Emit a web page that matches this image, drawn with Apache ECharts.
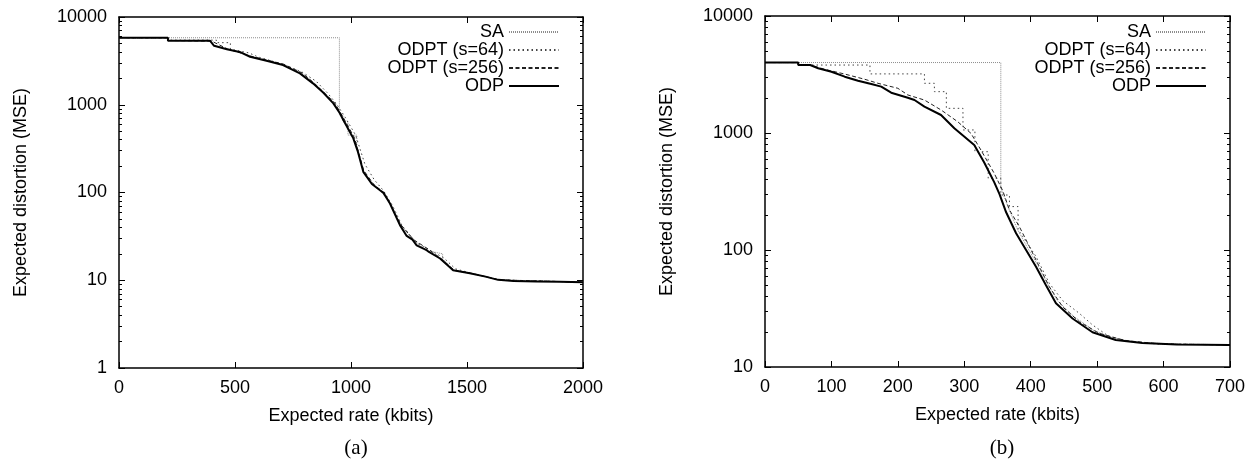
<!DOCTYPE html>
<html>
<head>
<meta charset="utf-8">
<script src="https://cdn.jsdelivr.net/npm/echarts@6/dist/echarts.min.js"></script>
<style>
html,body{margin:0;padding:0;background:#fff;}
#chart{width:1253px;height:462px;}
</style>
</head>
<body>
<div id="chart"></div>
<script>
// ---------- data: panel (a) ----------
const seriesNames = ['SA', 'ODPT (s=64)', 'ODPT (s=256)', 'ODP'];

const aOdpRate = [0, 211, 211, 392, 410, 465, 520, 565, 640, 707, 780, 836, 880, 924, 952, 967, 1010, 1030, 1053, 1090, 1125, 1140, 1168, 1211, 1240, 1265, 1283, 1326, 1336, 1384, 1420, 1440, 1512, 1580, 1634, 1700, 1800, 1900, 2000];
const aOdpVal  = [5800, 5800, 5370, 5370, 4700, 4285, 4000, 3525, 3150, 2836, 2280, 1754, 1380, 1038, 800, 670, 414, 290, 172, 125, 106, 99, 75, 42.5, 32, 29, 25, 22, 21, 17.7, 14.5, 13, 12, 11, 10.1, 9.8, 9.7, 9.6, 9.5];

const aS64Rate = [0, 211, 211, 420, 420, 480, 480, 560, 600, 660, 720, 790, 850, 900, 940, 975, 1020, 1060, 1100, 1140, 1180, 1220, 1280, 1340, 1400, 1450, 1520, 1640, 2000];
const aS64Val  = [5800, 5800, 5450, 5450, 5100, 5100, 4300, 3900, 3500, 3150, 2800, 2350, 1850, 1350, 1000, 720, 450, 210, 140, 105, 70, 42, 27, 22, 18, 13.5, 12, 10.1, 9.5];

const aS256Rate = [0, 211, 211, 400, 470, 565, 710, 790, 840, 930, 970, 1015, 1055, 1100, 1145, 1215, 1270, 1340, 1390, 1445, 1520, 1640, 2000];
const aS256Val  = [5800, 5800, 5400, 5300, 4300, 3600, 2900, 2300, 1780, 1050, 690, 420, 178, 122, 98, 43, 29, 22, 17.5, 13, 12, 10.1, 9.5];

const aSaRate = [0, 950, 950, 965, 965, 987, 987, 1025, 1025, 1053, 1090, 1125, 1170, 1211, 1265, 1320, 1395, 1395, 1440, 1512, 1634, 2000];
const aSaVal  = [5800, 5800, 763, 763, 640, 640, 451, 451, 330, 175, 128, 106, 76, 43, 29.5, 22, 20, 17.7, 13, 12, 10.1, 9.5];

// ---------- data: panel (b) ----------
const bOdpRate = [0, 50, 50, 68, 80, 100, 120, 140, 160, 175, 190, 215, 225, 240, 265, 285, 315, 330, 345, 353, 363, 378, 393, 408, 423, 438, 463, 493, 528, 568, 620, 700];
const bOdpVal  = [4000, 4000, 3810, 3810, 3575, 3340, 3030, 2800, 2620, 2490, 2210, 2000, 1913, 1680, 1425, 1097, 790, 560, 380, 300, 210, 139, 100, 72, 50, 35, 26, 19.8, 17, 16, 15.6, 15.4];

const bS64Rate = [0, 50, 50, 158, 158, 240, 240, 255, 255, 273, 273, 298, 298, 316, 316, 336, 336, 355, 355, 368, 368, 381, 381, 388, 408, 428, 448, 473, 493, 518, 553, 593, 700];
const bS64Val  = [4000, 4000, 3810, 3810, 3200, 3200, 2660, 2660, 2256, 2256, 1625, 1625, 1062, 1062, 692, 692, 410, 410, 295, 295, 235, 235, 150, 130, 88, 52, 37, 28.8, 22.9, 18.2, 16.4, 15.7, 15.5];

const bS256Rate = [0, 50, 50, 68, 90, 120, 150, 170, 200, 215, 240, 265, 290, 310, 325, 345, 358, 368, 383, 398, 413, 428, 448, 473, 503, 543, 593, 700];
const bS256Val  = [4000, 4000, 3810, 3810, 3500, 3190, 2880, 2660, 2410, 2115, 1913, 1574, 1250, 994, 716, 453, 320, 220, 158, 107, 72, 48.5, 32.7, 24.4, 19.4, 16.8, 15.8, 15.4];

const bSaRate = [0, 355, 355, 365, 380, 395, 410, 425, 440, 465, 495, 530, 570, 620, 700];
const bSaVal  = [4000, 4000, 340, 240, 150, 105, 75, 52, 37, 27, 20.5, 17.3, 16.1, 15.7, 15.5];

// ---------- tick values ----------
const aYMajor = [1, 10, 100, 1000, 10000];
const aYMinor = [2, 3, 4, 5, 6, 7, 8, 9, 20, 30, 40, 50, 60, 70, 80, 90, 200, 300, 400, 500, 600, 700, 800, 900, 2000, 3000, 4000, 5000, 6000, 7000, 8000, 9000];
const bYMajor = [10, 100, 1000, 10000];
const bYMinor = [20, 30, 40, 50, 60, 70, 80, 90, 200, 300, 400, 500, 600, 700, 800, 900, 2000, 3000, 4000, 5000, 6000, 7000, 8000, 9000];

// ---------- helpers ----------
function zip(xs, ys) { return xs.map((x, i) => [x, ys[i]]); }
function plain(v) { return String(v); }

const FONT = 'Liberation Sans';
const lineBlack = { color: '#000', width: 1.5 };

function xAxes(gridIndex, max, interval) {
  return [
    { type: 'value', gridIndex, position: 'bottom', min: 0, max, interval,
      axisLine: { show: true, lineStyle: lineBlack },
      axisTick: { inside: true, length: 6, lineStyle: { color: '#000', width: 1 } },
      axisLabel: { fontSize: 18, fontFamily: FONT, color: '#000', margin: 11, formatter: plain },
      splitLine: { show: false },
      name: 'Expected rate (kbits)', nameLocation: 'middle', nameGap: 39,
      nameTextStyle: { fontSize: 18, fontFamily: FONT, color: '#000' } },
    { type: 'value', gridIndex, position: 'top', min: 0, max, interval,
      axisLine: { show: true, onZero: false, lineStyle: lineBlack },
      axisTick: { inside: true, length: 6, lineStyle: { color: '#000', width: 1 } },
      axisLabel: { show: false }, splitLine: { show: false } }
  ];
}

function yAxes(gridIndex, min, max, major, minor, nameGap) {
  const base = { type: 'log', logBase: 10, gridIndex, min, max, splitLine: { show: false } };
  return [
    Object.assign({}, base, { position: 'left',
      axisLine: { show: true, lineStyle: lineBlack },
      axisTick: { inside: true, length: 6, customValues: major, lineStyle: { color: '#000', width: 1 } },
      axisLabel: { customValues: major, fontSize: 18, fontFamily: FONT, color: '#000', margin: 12, formatter: plain },
      name: 'Expected distortion (MSE)', nameLocation: 'middle', nameGap,
      nameTextStyle: { fontSize: 18, fontFamily: FONT, color: '#000' } }),
    Object.assign({}, base, { position: 'left',
      axisLine: { show: false },
      axisTick: { inside: true, length: 3, customValues: minor, lineStyle: { color: '#000', width: 1 } },
      axisLabel: { show: false } }),
    Object.assign({}, base, { position: 'right',
      axisLine: { show: true, lineStyle: lineBlack },
      axisTick: { inside: true, length: 6, customValues: major, lineStyle: { color: '#000', width: 1 } },
      axisLabel: { show: false } }),
    Object.assign({}, base, { position: 'right',
      axisLine: { show: false },
      axisTick: { inside: true, length: 3, customValues: minor, lineStyle: { color: '#000', width: 1 } },
      axisLabel: { show: false } })
  ];
}

const styles = {
  'SA':           { color: '#8c8c8c', width: 1, type: [1, 1] },
  'ODPT (s=64)':  { color: '#444', width: 1, type: [1.5, 3] },
  'ODPT (s=256)': { color: '#222', width: 1, type: [4, 2.5] },
  'ODP':          { color: '#000', width: 2, type: 'solid' }
};

function mkSeries(name, data, xi, yi, z) {
  return { name, type: 'line', data, xAxisIndex: xi, yAxisIndex: yi,
    showSymbol: false, symbol: 'none', z,
    lineStyle: styles[name], itemStyle: { color: styles[name].color },
    emphasis: { disabled: true } };
}

function mkLegend(right) {
  return { data: seriesNames, orient: 'vertical', align: 'right', right, top: 23,
    itemWidth: 50, itemHeight: 10, itemGap: 0, padding: 0,
    itemStyle: { opacity: 0, borderWidth: 0 },
    textStyle: { fontSize: 18, fontFamily: FONT, color: '#000' } };
}

const option = {
  animation: false,
  backgroundColor: '#fff',
  grid: [
    { left: 119, top: 17, width: 464, height: 351 },
    { left: 765, top: 16, width: 465, height: 351 }
  ],
  xAxis: [].concat(xAxes(0, 2000, 500), xAxes(1, 700, 100)),
  yAxis: [].concat(yAxes(0, 1, 10000, aYMajor, aYMinor, 89), yAxes(1, 10, 10000, bYMajor, bYMinor, 89)),
  legend: [mkLegend(693), mkLegend(46)],
  title: [
    { text: '(a)', left: 351, top: 433, textAlign: 'center',
      textStyle: { fontSize: 21, fontWeight: 'normal', fontFamily: 'Liberation Serif', color: '#000' } },
    { text: '(b)', left: 997, top: 433, textAlign: 'center',
      textStyle: { fontSize: 21, fontWeight: 'normal', fontFamily: 'Liberation Serif', color: '#000' } }
  ],
  series: [
    mkSeries('SA', zip(aSaRate, aSaVal), 0, 0, 2),
    mkSeries('ODPT (s=64)', zip(aS64Rate, aS64Val), 0, 0, 3),
    mkSeries('ODPT (s=256)', zip(aS256Rate, aS256Val), 0, 0, 4),
    mkSeries('ODP', zip(aOdpRate, aOdpVal), 0, 0, 5),
    mkSeries('SA', zip(bSaRate, bSaVal), 2, 4, 2),
    mkSeries('ODPT (s=64)', zip(bS64Rate, bS64Val), 2, 4, 3),
    mkSeries('ODPT (s=256)', zip(bS256Rate, bS256Val), 2, 4, 4),
    mkSeries('ODP', zip(bOdpRate, bOdpVal), 2, 4, 5)
  ]
};

const chart = echarts.init(document.getElementById('chart'), null, { renderer: 'canvas' });
chart.setOption(option);
</script>
</body>
</html>
